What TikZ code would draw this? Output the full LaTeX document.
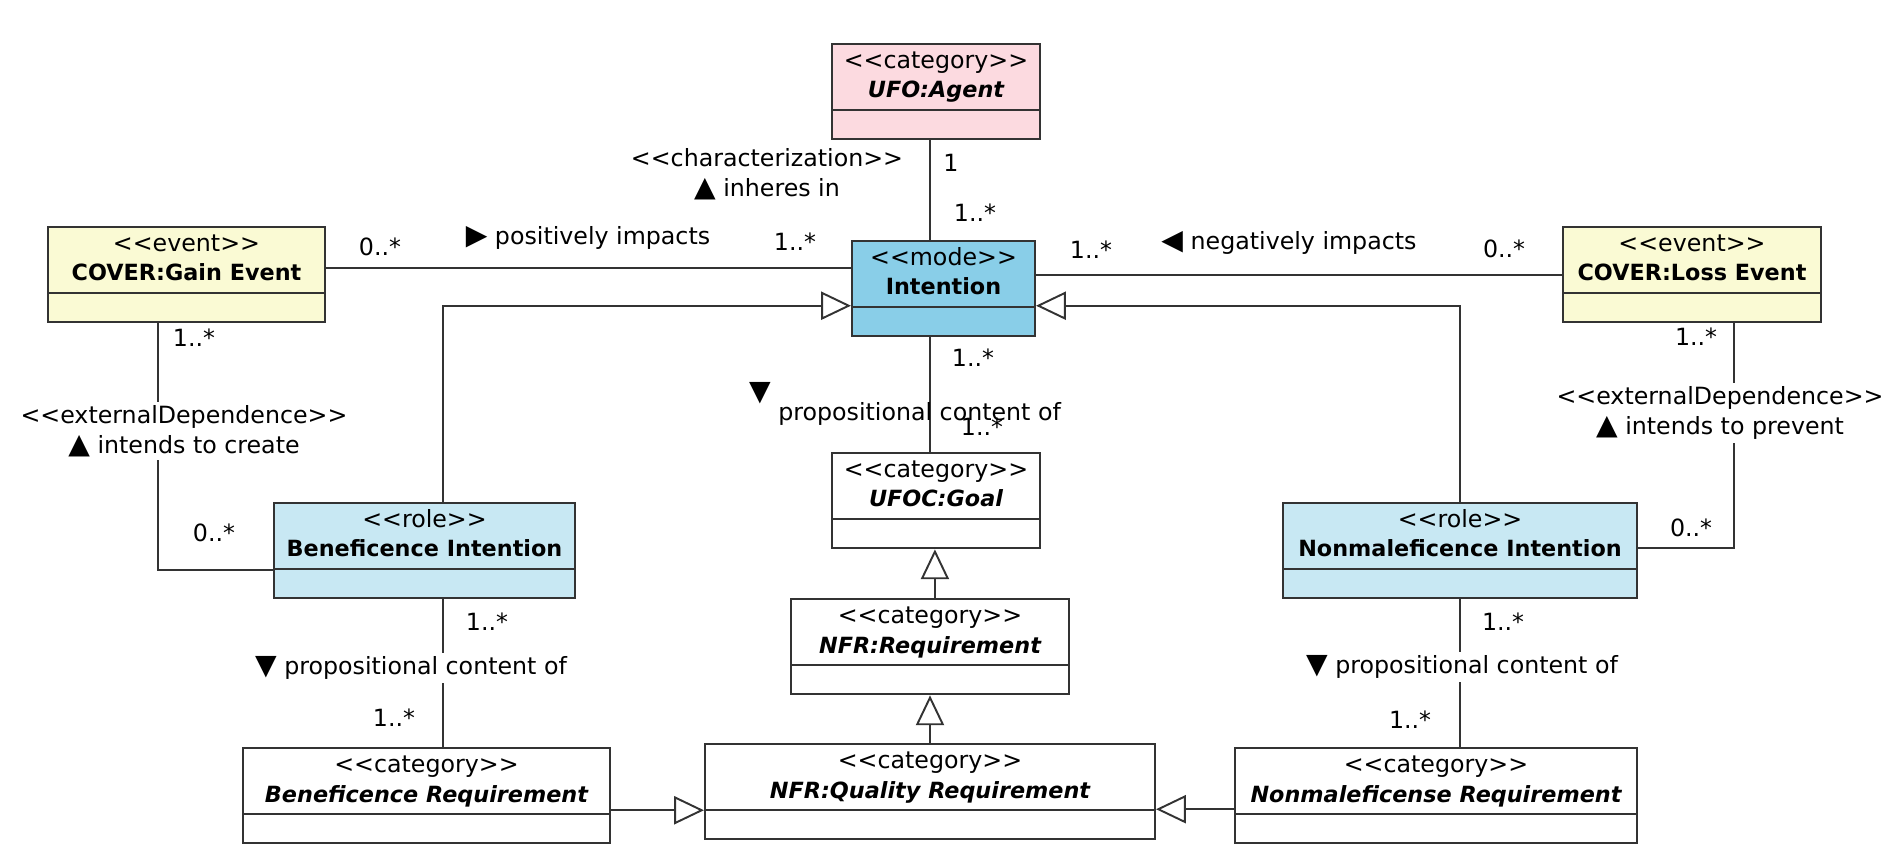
\documentclass[tikz,border=0pt]{standalone}
\usepackage{fontspec}
\newfontfamily\umlfont{DejaVu Sans}
\usetikzlibrary{shapes.multipart,arrows.meta}
\definecolor{agentpink}{RGB}{252,218,224}
\definecolor{modeblue}{RGB}{137,206,232}
\definecolor{roleblue}{RGB}{200,232,243}
\definecolor{eventyellow}{RGB}{250,250,212}

\newcommand{\umlname}[1]{{\fontsize{12.7}{17}\selectfont\bfseries #1\strut}}
\newcommand{\umlitname}[1]{{\fontsize{12.7}{17}\selectfont\bfseries\itshape #1\strut}}
\newcommand{\tri}[1]{{\fontsize{16}{17}\selectfont #1}}

\tikzset{
  umlclass/.style={rectangle split, rectangle split parts=2, draw=black!80, line width=1.2pt,
    anchor=north, align=center, inner xsep=0pt, inner ysep=1.2pt,
    rectangle split empty part height=13pt, rectangle split empty part depth=0pt,
    font=\umlfont\fontsize{13.5}{17}\selectfont, execute at begin node=\strut},
  assoc/.style={draw=black!80, line width=1.1pt},
  gen/.style={assoc, -{Triangle[open, length=17pt, width=16pt]}},
  mult/.style={font=\umlfont\fontsize{13.5}{17}\selectfont, inner sep=1pt},
  rolename/.style={mult, align=center, fill=white, inner sep=2pt},
}

\begin{document}
\begin{tikzpicture}[x=0.02cm,y=-0.02cm]
\useasboundingbox (0,0) rectangle (1896,862);

% classes
\node[umlclass, fill=agentpink, text width=4.16cm] (agent) at (936,43) {<<category>>\\\umlitname{UFO:Agent}};
\node[umlclass, fill=modeblue, text width=3.66cm] (intention) at (943.5,240) {<<mode>>\\\umlname{Intention}};
\node[umlclass, fill=eventyellow, text width=5.54cm] (gain) at (186.5,226) {<<event>>\\\umlname{COVER:Gain Event}};
\node[umlclass, fill=eventyellow, text width=5.16cm] (loss) at (1692,226) {<<event>>\\\umlname{COVER:Loss Event}};
\node[umlclass, fill=roleblue, text width=6.02cm] (benint) at (424.5,502) {<<role>>\\\umlname{Beneficence Intention}};
\node[umlclass, fill=roleblue, text width=7.08cm] (nonmint) at (1460,502) {<<role>>\\\umlname{Nonmaleficence Intention}};
\node[umlclass, fill=white, text width=4.16cm] (goal) at (936,452) {<<category>>\\\umlitname{UFOC:Goal}};
\node[umlclass, fill=white, text width=5.56cm] (nfrreq) at (930,598) {<<category>>\\\umlitname{NFR:Requirement}};
\node[umlclass, fill=white, text width=9.0cm] (quality) at (930,743) {<<category>>\\\umlitname{NFR:Quality Requirement}};
\node[umlclass, fill=white, text width=7.34cm] (benreq) at (426.5,747) {<<category>>\\\umlitname{Beneficence Requirement}};
\node[umlclass, fill=white, text width=8.04cm] (nonmreq) at (1436,747) {<<category>>\\\umlitname{Nonmaleficense Requirement}};

% associations
\draw[assoc] ([xshift=-3.4pt]agent.south) -- ([xshift=-3.4pt]agent.south |- intention.north);
\draw[assoc] ([yshift=3.7pt]gain.east) -- ([yshift=3.7pt]gain.east -| intention.west);
\draw[assoc] (loss.west) -- (loss.west -| intention.east);
\draw[assoc] ([xshift=-16.2pt]gain.south) |- ([yshift=-10.8pt]benint.west);
\draw[assoc] ([xshift=23.9pt]loss.south) |- ([yshift=1.7pt]nonmint.east);
\draw[assoc] ([xshift=-7.7pt]intention.south) -- ([xshift=-7.7pt]intention.south |- goal.north);
\draw[assoc] ([xshift=10.5pt]benint.south) -- ([xshift=10.5pt]benint.south |- benreq.north);
\draw[assoc] (nonmint.south) -- (nonmint.south |- nonmreq.north);

% generalizations
\draw[gen] ([xshift=10.5pt]benint.north) |- ([yshift=-9.7pt]intention.west);
\draw[gen] (nonmint.north) |- ([yshift=-9.7pt]intention.east);
\draw[gen] ([xshift=2.8pt]nfrreq.north) -- ([xshift=2.8pt]nfrreq.north |- goal.south);
\draw[gen] (quality.north) -- (quality.north |- nfrreq.south);
\draw[gen] ([yshift=-8.3pt]benreq.east) -- ([yshift=-8.3pt]benreq.east -| quality.west);
\draw[gen] ([yshift=-7.7pt]nonmreq.west) -- ([yshift=-7.7pt]nonmreq.west -| quality.east);

% association labels
\node[mult, align=center] (charlabel) at (767,174) {<<characterization>>\\\tri{▲} inheres in};
\node[mult] (m1) at (951,163) {1};
\node[mult] (m2) at (975,213) {1..*};
\node[mult] (m3) at (380,247) {0..*};
\node[mult] (poslabel) at (588,238) {\tri{▶} positively impacts};
\node[mult] (m4) at (795,242) {1..*};
\node[mult] (m5) at (1091,250) {1..*};
\node[mult] (neglabel) at (1289,243) {\tri{◀} negatively impacts};
\node[mult] (m6) at (1504,249) {0..*};
\node[mult] (m7) at (194,338) {1..*};
\node[rolename] (createlabel) at (184,431) {<<externalDependence>>\\\tri{▲} intends to create};
\node[mult] (m8) at (214,533) {0..*};
\node[mult] (m9) at (1696,337) {1..*};
\node[rolename] (preventlabel) at (1720,413) {<<externalDependence>>\\\tri{▲} intends to prevent};
\node[mult] (m10) at (1691,528) {0..*};
\node[mult] (m11) at (973,358) {1..*};
\node[mult] (goallabel) at (905,404) {\raisebox{11pt}{\tri{▼}} propositional content of};
\node[mult] (m12) at (982,427) {1..*};
\node[mult] (m13) at (487,622) {1..*};
\node[rolename] (benlabel) at (411,668) {\tri{▼} propositional content of};
\node[mult] (m14) at (394,718) {1..*};
\node[mult] (m15) at (1503,622) {1..*};
\node[rolename] (nonmlabel) at (1462,667) {\tri{▼} propositional content of};
\node[mult] (m16) at (1410,720) {1..*};
\end{tikzpicture}
\end{document}
